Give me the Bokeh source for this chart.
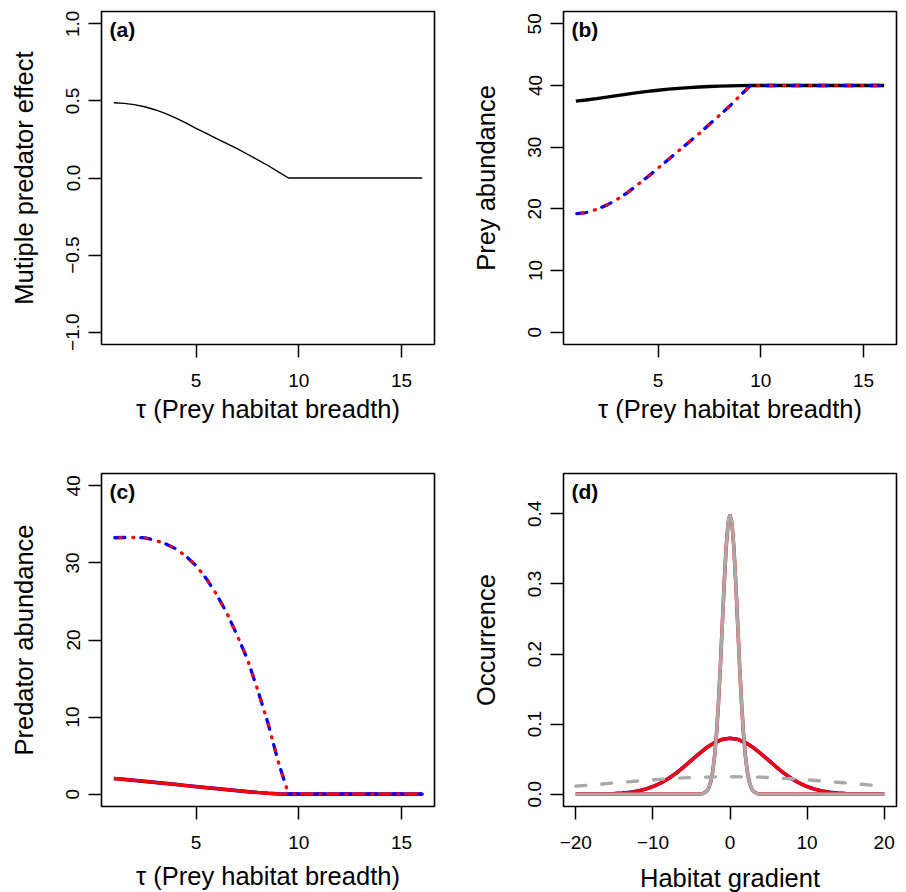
import math
from bokeh.plotting import figure
from bokeh.models import Range1d, FixedTicker, CustomJSTickFormatter, Label
from bokeh.layouts import row, column
from bokeh.embed import file_html
from bokeh.resources import INLINE

# ---------------- data ----------------
tau = [1.0, 1.5, 2.0, 2.5, 3.0, 3.5, 4.0, 4.5, 5.0, 5.5, 6.0, 6.5, 7.0, 7.5, 8.0, 8.5, 9.0, 9.5,
       10.0, 10.5, 11.0, 11.5, 12.0, 12.5, 13.0, 13.5, 14.0, 14.5, 15.0, 15.5, 16.0]

# (a) multiple predator effect
mpe = [0.488, 0.484, 0.476, 0.462, 0.443, 0.419, 0.390, 0.357, 0.322, 0.289, 0.256, 0.223,
       0.190, 0.154, 0.118, 0.081, 0.040, 0.000,
       0.0, 0.0, 0.0, 0.0, 0.0, 0.0, 0.0, 0.0, 0.0, 0.0, 0.0, 0.0, 0.0]

# (b) prey abundance
prey_single = [37.46, 37.65, 37.88, 38.12, 38.37, 38.61, 38.84, 39.05, 39.23, 39.40, 39.54, 39.66,
               39.76, 39.84, 39.90, 39.95, 39.98, 40.0,
               40.0, 40.0, 40.0, 40.0, 40.0, 40.0, 40.0, 40.0, 40.0, 40.0, 40.0, 40.0, 40.0]
prey_multi = [19.2, 19.4, 19.9, 20.6, 21.5, 22.6, 23.9, 25.2, 26.6, 28.0, 29.4, 30.8,
              32.2, 33.7, 35.2, 36.7, 38.4, 40.0,
              40.0, 40.0, 40.0, 40.0, 40.0, 40.0, 40.0, 40.0, 40.0, 40.0, 40.0, 40.0, 40.0]

# (c) predator abundance
pred_single = [2.03, 1.92, 1.80, 1.67, 1.54, 1.40, 1.26, 1.12, 0.98, 0.84, 0.71, 0.58,
               0.45, 0.33, 0.22, 0.12, 0.05, 0.0,
               0.0, 0.0, 0.0, 0.0, 0.0, 0.0, 0.0, 0.0, 0.0, 0.0, 0.0, 0.0, 0.0]
pred_multi = [33.26, 33.30, 33.30, 33.25, 32.95, 32.50, 31.85, 30.90, 29.65, 27.95, 25.90, 23.50,
              20.60, 17.50, 13.50, 9.20, 4.20, 0.0,
              0.0, 0.0, 0.0, 0.0, 0.0, 0.0, 0.0, 0.0, 0.0, 0.0, 0.0, 0.0, 0.0]

# (d) occurrence along the habitat gradient
hab = [-20, -19, -18, -17, -16, -15, -14, -13, -12, -11, -10, -9, -8, -7, -6, -5, -4, -3, -2, -1, 0,
       1, 2, 3, 4, 5, 6, 7, 8, 9, 10, 11, 12, 13, 14, 15, 16, 17, 18, 19, 20]
occ_mid = [0.0000, 0.0001, 0.0001, 0.0002, 0.0005, 0.0009, 0.0016, 0.0027, 0.0045, 0.0071, 0.0108,
           0.0158, 0.0222, 0.0299, 0.0388, 0.0484, 0.0579, 0.0666, 0.0737, 0.0782, 0.0798,
           0.0782, 0.0737, 0.0666, 0.0579, 0.0484, 0.0388, 0.0299, 0.0222, 0.0158, 0.0108,
           0.0071, 0.0045, 0.0027, 0.0016, 0.0009, 0.0005, 0.0002, 0.0001, 0.0001, 0.0000]
hab_wide = [-20, -18, -16, -14, -12, -10, -8, -6, -4, -2, 0, 2, 4, 6, 8, 10, 12, 14, 16, 18, 20]
occ_wide = [0.0114, 0.0132, 0.0151, 0.0170, 0.0188, 0.0205, 0.0220, 0.0232, 0.0242, 0.0247, 0.0249,
            0.0247, 0.0242, 0.0232, 0.0220, 0.0205, 0.0188, 0.0170, 0.0151, 0.0132, 0.0114]
hab_narrow = [-20, -4, -3.5, -3, -2.75, -2.5, -2.25, -2, -1.75, -1.5, -1.25, -1, -0.75, -0.5, -0.25, 0,
              0.25, 0.5, 0.75, 1, 1.25, 1.5, 1.75, 2, 2.25, 2.5, 2.75, 3, 3.5, 4, 20]
occ_narrow = [0.0, 0.0001, 0.0009, 0.0044, 0.0091, 0.0175, 0.0317, 0.0540, 0.0863, 0.1295, 0.1826,
              0.2420, 0.3011, 0.3521, 0.3867, 0.3989,
              0.3867, 0.3521, 0.3011, 0.2420, 0.1826, 0.1295, 0.0863, 0.0540, 0.0317, 0.0175,
              0.0091, 0.0044, 0.0009, 0.0001, 0.0]

# axis limits and ticks
tau_lim = (1, 16)
mpe_lim = (-1, 1)
prey_lim = (0, 50)
pred_lim = (0, 40)
hab_lim = (-20, 20)
occ_lim = (0, 0.44)
tau_ticks = [5, 10, 15]
mpe_ticks = [-1.0, -0.5, 0.0, 0.5, 1.0]
prey_ticks = [0, 10, 20, 30, 40, 50]
pred_ticks = [0, 10, 20, 30, 40]
hab_ticks = [-20, -10, 0, 10, 20]
occ_ticks = [0.0, 0.1, 0.2, 0.3, 0.4]

# ---------------- styling ----------------
FONT = "Liberation Sans"
TICK_SIZE = "19px"
TITLE_SIZE = "25.5px"
TAG_SIZE = "21px"
FRAME = 333
BLUE = "#0000FF"
RED = "#FF0000"
GRAY = "#A9A9A9"
LW = 3.3

FMT1 = "const s = Math.abs(tick).toFixed(1); return (tick < -1e-9 ? '\u2212' : '') + s;"
FMT0 = "const s = Math.abs(tick).toFixed(0); return (tick < -1e-9 ? '\u2212' : '') + s;"


def ext(lim):
    d = 0.04 * (lim[1] - lim[0])
    return (lim[0] - d, lim[1] + d)


def panel(xlim, ylim, xticks, yticks, xfmt, yfmt, ylabel, xlabel, tag, top_row, right_col,
          xtitle_standoff):
    xr = ext(xlim)
    yr = ext(ylim)
    p = figure(x_range=Range1d(*xr), y_range=Range1d(*yr),
               frame_width=FRAME, frame_height=FRAME,
               output_backend="svg", toolbar_location=None, tools="")
    p.min_border_left = 100 if right_col else 101
    p.min_border_right = 10 if right_col else 29
    p.min_border_top = 11 if top_row else 3
    p.min_border_bottom = 126 if top_row else 86
    p.background_fill_color = "white"
    p.border_fill_color = "white"
    p.outline_line_color = "black"
    p.outline_line_width = 1.6
    p.grid.visible = False

    for ax in (p.xaxis[0], p.yaxis[0]):
        ax.axis_line_color = None
        ax.major_tick_in = 0
        ax.major_tick_out = 13
        ax.major_tick_line_width = 1.5
        ax.major_tick_line_color = "black"
        ax.minor_tick_line_color = None
        ax.major_label_text_font = FONT
        ax.major_label_text_font_size = TICK_SIZE
        ax.major_label_text_color = "black"
        ax.axis_label_text_font = FONT
        ax.axis_label_text_font_size = TITLE_SIZE
        ax.axis_label_text_font_style = "normal"
        ax.axis_label_text_color = "black"

    p.xaxis.ticker = FixedTicker(ticks=xticks)
    p.yaxis.ticker = FixedTicker(ticks=yticks)
    p.xaxis.formatter = CustomJSTickFormatter(code=xfmt)
    p.yaxis.formatter = CustomJSTickFormatter(code=yfmt)
    p.yaxis.major_label_orientation = "parallel"
    p.yaxis.major_label_standoff = 9
    p.yaxis.axis_label = ylabel
    p.yaxis.axis_label_standoff = 26
    p.xaxis.major_label_standoff = 16
    p.xaxis.axis_label = xlabel
    p.xaxis.axis_label_standoff = xtitle_standoff

    pxx = FRAME / (xr[1] - xr[0])
    pxy = FRAME / (yr[1] - yr[0])
    p.add_layout(Label(x=xr[0] + 8 / pxx, y=yr[1] - 18 / pxy, text=tag,
                       text_align="left", text_baseline="alphabetic",
                       text_font=FONT, text_font_size=TAG_SIZE, text_font_style="bold",
                       text_color="black"))
    return p


XLAB = "\u03c4 (Prey habitat breadth)"

# (a)
pa = panel(tau_lim, mpe_lim, tau_ticks, mpe_ticks, FMT0, FMT1,
           "Mutiple predator effect", XLAB, "(a)", True, False, 5)
pa.line(tau, mpe, line_color="black", line_width=1.4)

# (b)
pb = panel(tau_lim, prey_lim, tau_ticks, prey_ticks, FMT0, FMT0,
           "Prey abundance", XLAB, "(b)", True, True, 5)
pb.line(tau, prey_single, line_color="black", line_width=LW)
pb.line(tau, prey_multi, line_color=BLUE, line_width=LW, line_dash="10 16",
        line_dash_offset=25, line_cap="round")
pb.line(tau, prey_multi, line_color=RED, line_width=LW, line_dash="1 12",
        line_dash_offset=7, line_cap="round")

# (c)
pc = panel(tau_lim, pred_lim, tau_ticks, pred_ticks, FMT0, FMT0,
           "Predator abundance", XLAB, "(c)", False, False, 10)
pc.line(tau, pred_single, line_color=BLUE, line_width=LW + 0.4)
pc.line(tau, pred_single, line_color=RED, line_width=LW)
pc.line(tau, pred_multi, line_color=BLUE, line_width=LW, line_dash="10 16",
        line_dash_offset=25, line_cap="round")
pc.line(tau, pred_multi, line_color=RED, line_width=LW, line_dash="1 12",
        line_dash_offset=7, line_cap="round")

# (d)
pd_ = panel(hab_lim, occ_lim, hab_ticks, occ_ticks, FMT0, FMT1,
            "Occurrence", "Habitat gradient", "(d)", False, True, 12)
pd_.line(hab, occ_mid, line_color=BLUE, line_width=LW + 0.4)
pd_.line(hab, occ_mid, line_color=RED, line_width=LW)
pd_.line(hab_narrow, occ_narrow, line_color=RED, line_width=LW + 0.3)
pd_.line(hab_narrow, occ_narrow, line_color=GRAY, line_width=LW)
pd_.line(hab_wide, occ_wide, line_color=GRAY, line_width=LW, line_dash="10 16",
         line_cap="round")

layout = column(row(pa, pb), row(pc, pd_))

with open("out.html", "w", encoding="utf-8") as f:
    f.write(file_html(layout, INLINE))
